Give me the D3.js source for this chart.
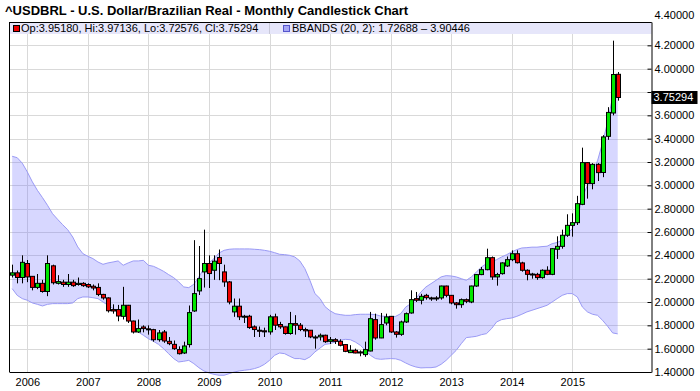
<!DOCTYPE html>
<html><head><meta charset="utf-8">
<script src="https://cdn.jsdelivr.net/npm/d3@7"></script>
<style>
html,body{margin:0;padding:0;background:#fff;}
svg{display:block;font-family:"Liberation Sans",Arial,sans-serif;}
</style></head>
<body><svg id="c" width="700" height="391"></svg>
<script>
// Monthly candles, Oct 2005 .. Oct 2015
const startYear = 2005, startMonth = 9; // October 2005 (0-based month)
const open = [2.23,2.25,2.21,2.33,2.22,2.125,2.16,2.09,2.31,2.16,2.17,2.15,2.17,2.15,2.16,2.15,2.135,2.125,2.065,2.035,1.935,1.935,1.877,1.972,1.837,1.743,1.786,1.77,1.763,1.677,1.743,1.663,1.637,1.592,1.563,1.635,1.923,2.095,2.258,2.33,2.272,2.381,2.258,2.172,1.915,1.964,1.873,1.878,1.787,1.758,1.753,1.744,1.873,1.807,1.787,1.73,1.815,1.801,1.764,1.758,1.695,1.701,1.715,1.663,1.677,1.663,1.635,1.566,1.586,1.572,1.549,1.58,1.849,1.692,1.82,1.877,1.743,1.723,1.829,1.906,2.029,2.015,2.057,2.035,2.035,2.035,2.137,2.057,1.992,1.977,2.02,2.0,2.137,2.235,2.277,2.38,2.215,2.243,2.309,2.363,2.414,2.335,2.272,2.235,2.237,2.209,2.272,2.237,2.452,2.477,2.572,2.657,2.68,2.837,3.195,3.015,3.18,3.11,3.42,3.62,3.9518];
const high = [2.32,2.27,2.40,2.36,2.22,2.24,2.19,2.40,2.32,2.23,2.19,2.24,2.19,2.21,2.17,2.16,2.15,2.16,2.07,2.04,1.98,1.975,2.13,1.975,1.84,1.85,1.80,1.80,1.77,1.76,1.76,1.70,1.67,1.62,1.66,1.97,2.53,2.48,2.62,2.40,2.40,2.45,2.32,2.18,2.03,2.03,1.89,1.89,1.80,1.79,1.78,1.89,1.90,1.83,1.79,1.915,1.887,1.82,1.78,1.76,1.715,1.73,1.72,1.70,1.69,1.68,1.64,1.63,1.60,1.585,1.66,1.915,1.90,1.906,1.90,1.88,1.75,1.84,1.91,2.10,2.086,2.07,2.07,2.045,2.05,2.14,2.14,2.06,2.0,2.03,2.03,2.14,2.24,2.30,2.457,2.39,2.25,2.34,2.39,2.443,2.443,2.345,2.28,2.25,2.25,2.28,2.306,2.46,2.563,2.62,2.752,2.76,2.91,3.323,3.20,3.19,3.19,3.43,3.67,4.24,3.97136];
const low = [2.21,2.16,2.16,2.17,2.10,2.11,2.08,2.05,2.15,2.15,2.13,2.13,2.13,2.14,2.13,2.12,2.10,2.05,2.02,1.91,1.90,1.835,1.85,1.82,1.73,1.735,1.74,1.72,1.66,1.66,1.65,1.63,1.59,1.55,1.555,1.61,1.915,2.06,2.124,2.12,2.19,2.187,2.13,1.98,1.873,1.845,1.82,1.77,1.70,1.70,1.70,1.72,1.76,1.77,1.72,1.72,1.72,1.75,1.70,1.69,1.60,1.67,1.65,1.64,1.64,1.62,1.57,1.565,1.56,1.535,1.53,1.577,1.677,1.69,1.80,1.735,1.695,1.71,1.82,1.90,2.0,1.98,2.02,2.01,2.01,2.02,2.04,1.98,1.943,1.95,1.99,1.99,2.13,2.23,2.272,2.19,2.14,2.235,2.30,2.35,2.33,2.26,2.186,2.20,2.19,2.20,2.23,2.23,2.369,2.457,2.558,2.56,2.66,2.83,2.886,2.966,3.037,3.07,3.39,3.60,3.72576];
const close = [2.25,2.21,2.34,2.215,2.125,2.16,2.09,2.33,2.165,2.175,2.15,2.17,2.14,2.16,2.14,2.13,2.12,2.065,2.035,1.925,1.923,1.88,1.972,1.837,1.743,1.772,1.772,1.763,1.677,1.735,1.666,1.643,1.60,1.557,1.623,1.909,2.072,2.20,2.33,2.244,2.35,2.33,2.172,2.00,1.964,1.873,1.878,1.781,1.764,1.752,1.744,1.873,1.801,1.787,1.73,1.815,1.801,1.764,1.753,1.701,1.70,1.715,1.66,1.677,1.663,1.629,1.577,1.586,1.563,1.563,1.592,1.857,1.692,1.806,1.872,1.743,1.723,1.829,1.90,2.02,2.015,2.049,2.037,2.03,2.03,2.137,2.057,1.992,1.977,2.02,2.006,2.137,2.235,2.277,2.38,2.215,2.235,2.335,2.363,2.414,2.337,2.272,2.237,2.24,2.209,2.272,2.237,2.457,2.477,2.572,2.657,2.68,2.843,3.195,3.015,3.18,3.109,3.415,3.625,3.95,3.75294];
// Bollinger bands (20, 2)
const bbUpper = [3.249,3.237,3.19,3.115,3.03,2.957,2.895,2.829,2.757,2.709,2.663,2.62,2.557,2.472,2.415,2.392,2.372,2.343,2.323,2.335,2.343,2.352,2.315,2.335,2.352,2.352,2.357,2.315,2.306,2.286,2.263,2.235,2.209,2.172,2.129,2.123,2.152,2.215,2.286,2.335,2.372,2.42,2.443,2.452,2.455,2.455,2.455,2.455,2.452,2.449,2.443,2.435,2.423,2.409,2.406,2.40,2.386,2.352,2.286,2.186,2.072,2.03,1.96,1.925,1.90,1.892,1.886,1.886,1.892,1.895,1.895,1.895,1.892,1.88,1.877,1.872,1.877,1.90,1.957,1.986,2.029,2.086,2.129,2.157,2.186,2.215,2.226,2.223,2.215,2.20,2.186,2.215,2.257,2.30,2.329,2.343,2.363,2.386,2.406,2.429,2.449,2.463,2.466,2.47,2.47,2.475,2.478,2.50,2.51,2.53,2.58,2.63,2.72,2.90,3.00,3.12,3.21,3.365,3.543,3.76,3.90446];
const bbLower = [2.115,2.057,2.029,2.015,1.992,1.98,1.966,1.98,1.986,1.986,1.986,1.986,1.992,2.029,2.043,2.043,2.037,2.029,2.0,1.972,1.943,1.923,1.90,1.872,1.80,1.743,1.715,1.686,1.663,1.637,1.60,1.557,1.515,1.486,1.492,1.50,1.472,1.437,1.409,1.392,1.38,1.372,1.372,1.386,1.40,1.409,1.415,1.42,1.429,1.443,1.466,1.50,1.543,1.563,1.557,1.535,1.515,1.515,1.506,1.529,1.572,1.605,1.637,1.643,1.657,1.672,1.68,1.677,1.657,1.629,1.586,1.543,1.515,1.509,1.512,1.515,1.513,1.50,1.477,1.457,1.443,1.435,1.437,1.437,1.443,1.466,1.50,1.543,1.586,1.643,1.695,1.70,1.706,1.72,1.729,1.772,1.829,1.849,1.857,1.863,1.877,1.895,1.915,1.929,1.943,1.957,1.972,2.0,2.029,2.057,2.072,2.072,2.043,1.957,1.915,1.895,1.886,1.843,1.792,1.735,1.72688];
const yTicks = [1.4,1.6,1.8,2.0,2.2,2.4,2.6,2.8,3.0,3.2,3.4,3.6,3.8,4.0,4.2,4.4];
const yearLabels = [2006,2007,2008,2009,2010,2011,2012,2013,2014,2015];
const title = "^USDBRL - U.S. Dollar/Brazilian Real - Monthly Candlestick Chart";
const legendCandle = "Op:3.95180, Hi:3.97136, Lo:3.72576, Cl:3.75294";
const legendBB = "BBANDS (20, 2): 1.72688 \u2013 3.90446";

const svg = d3.select("#c");
const L = 9.5, R = 651.5, T = 22, B = 372;

const data = open.map((o,i)=>({i, o, h:high[i], l:low[i], c:close[i], up:bbUpper[i], lo:bbLower[i]}));
const monthIndex = y => (y - startYear)*12 - startMonth; // index of January of year y
const x = d3.scaleLinear().domain([monthIndex(2006), monthIndex(2015)]).range([27.3, 572.3]);
const y = d3.scaleLinear().domain([1.4, 4.4]).range([B, T]);
const last = close[close.length-1];

// title
svg.append("text").attr("x",5).attr("y",15).attr("font-size",13).attr("font-weight","bold").attr("fill","#000").text(title);

// grid
const g = svg.append("g");
g.selectAll(".hg").data(yTicks.slice(1,-1)).join("line")
  .attr("x1",L).attr("x2",R).attr("y1",d=>Math.round(y(d))+0.5).attr("y2",d=>Math.round(y(d))+0.5)
  .attr("stroke","#d9d9d9").attr("stroke-width",1);
g.selectAll(".vg").data(yearLabels).join("line")
  .attr("x1",d=>Math.round(x(monthIndex(d)))+0.5).attr("x2",d=>Math.round(x(monthIndex(d)))+0.5)
  .attr("y1",T).attr("y2",B)
  .attr("stroke","#d9d9d9").attr("stroke-width",1);

// bands
const area = d3.area().x(d=>x(d.i)).y0(d=>y(d.lo)).y1(d=>y(d.up));
svg.append("path").datum(data).attr("d",area).attr("fill","rgba(110,110,255,0.28)");
const lineU = d3.line().x(d=>x(d.i)).y(d=>y(d.up));
const lineL = d3.line().x(d=>x(d.i)).y(d=>y(d.lo));
svg.append("path").datum(data).attr("d",lineU).attr("fill","none").attr("stroke","#9a9af5").attr("stroke-width",1);
svg.append("path").datum(data).attr("d",lineL).attr("fill","none").attr("stroke","#9a9af5").attr("stroke-width",1);

// candles
const cg = svg.append("g");
const bw = 4;
cg.selectAll(".wick").data(data).join("line")
  .attr("x1",d=>Math.round(x(d.i))+0.5).attr("x2",d=>Math.round(x(d.i))+0.5)
  .attr("y1",d=>y(d.h)).attr("y2",d=>y(d.l)).attr("stroke","#000").attr("stroke-width",1);
cg.selectAll(".body").data(data).join("rect")
  .attr("x",d=>Math.round(x(d.i))-bw/2+0.5).attr("width",bw)
  .attr("y",d=>y(Math.max(d.o,d.c))).attr("height",d=>Math.max(1,Math.abs(y(d.o)-y(d.c))))
  .attr("fill",d=>d.c>=d.o?"#00e600":"#ee0000").attr("stroke","#000").attr("stroke-width",1);

// legend box
svg.append("rect").attr("x",L).attr("y",T).attr("width",R-L).attr("height",12).attr("fill","#e6e6fa");
svg.append("line").attr("x1",L).attr("x2",R).attr("y1",T+0.5).attr("y2",T+0.5).attr("stroke","#000");
svg.append("line").attr("x1",269.5).attr("x2",269.5).attr("y1",T+1).attr("y2",T+12).attr("stroke","#c8c8d8");
svg.append("rect").attr("x",13.5).attr("y",T+3.5).attr("width",6).attr("height",6).attr("fill","#ee0000").attr("stroke","#000");
svg.append("text").attr("x",21).attr("y",T+10).attr("font-size",11).text(legendCandle);
svg.append("rect").attr("x",283.5).attr("y",T+3.5).attr("width",6).attr("height",6).attr("fill","#a6a6f5").attr("stroke","#5555cc");
svg.append("text").attr("x",292).attr("y",T+10).attr("font-size",11).text(legendBB);

// axes frame
svg.append("line").attr("x1",L).attr("x2",L).attr("y1",T).attr("y2",B).attr("stroke","#000");
svg.append("line").attr("x1",L).attr("x2",R).attr("y1",B+0.5).attr("y2",B+0.5).attr("stroke","#000");

// right axis
const ya = d3.axisRight(y).tickValues(yTicks).tickSize(0).tickPadding(3).tickFormat(d3.format(".5f"));
const yg = svg.append("g").attr("transform",`translate(${R},0)`).call(ya);
yg.select(".domain").attr("stroke","#000");
yg.selectAll("text").attr("font-size",11).attr("font-family","Liberation Sans, Arial, sans-serif").attr("fill","#000")
  .attr("dy", d => d === 4.4 ? "-0.32em" : "0.32em")
  .style("display", d => Math.abs(y(d) - y(last)) < 12 ? "none" : null);
yg.selectAll(".tick").append("line").attr("x1",-4).attr("x2",0).attr("stroke","#000");

// bottom axis labels
const xa = d3.axisBottom(x).tickValues(yearLabels.map(monthIndex)).tickSize(0).tickPadding(6)
  .tickFormat(d=>String(startYear + Math.floor((d+startMonth)/12)));
const xg = svg.append("g").attr("transform",`translate(0,${B})`).call(xa);
xg.select(".domain").remove();
xg.selectAll("text").attr("font-size",11).attr("font-family","Liberation Sans, Arial, sans-serif").attr("fill","#000");

// last price label
svg.append("rect").attr("x",R).attr("y",y(last)-6.5).attr("width",46).attr("height",13).attr("fill","#000");
svg.append("text").attr("x",R+2).attr("y",y(last)+4).attr("font-size",11).attr("fill","#fff").text(last.toFixed(5));
</script></body></html>
